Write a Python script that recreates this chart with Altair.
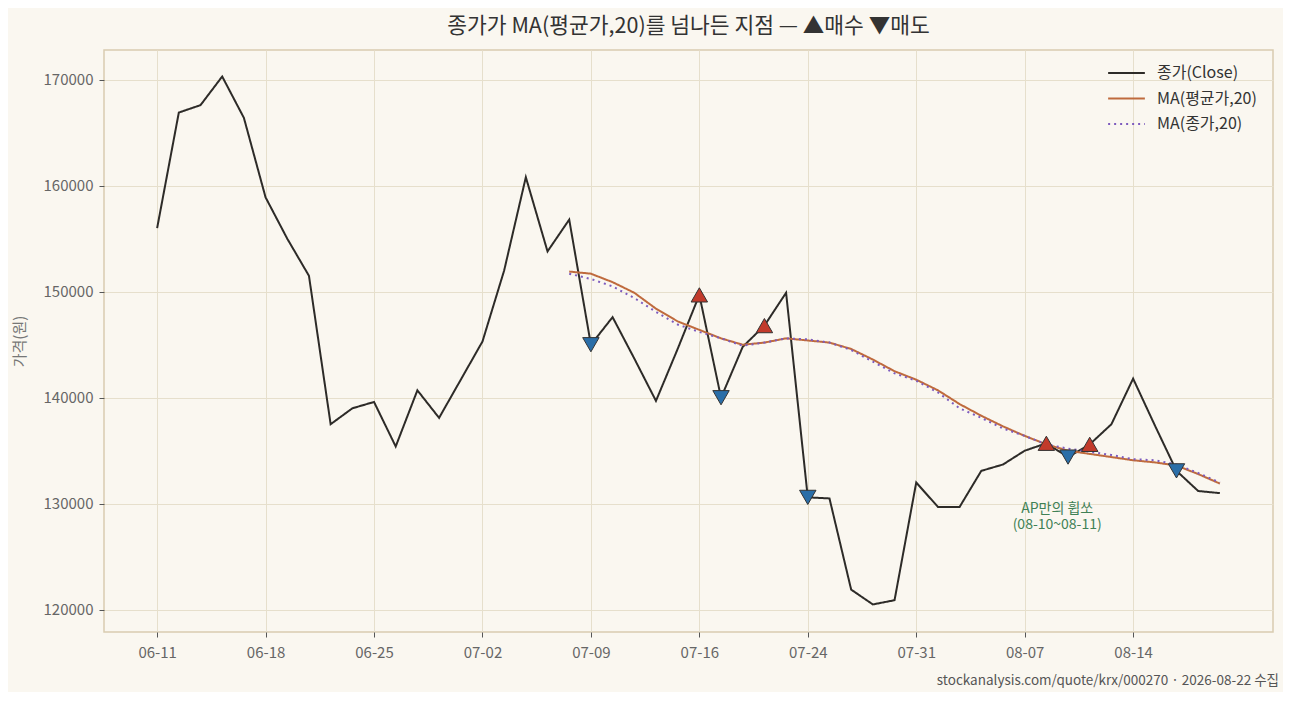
import altair as alt
import pandas as pd

FONT = "Noto Sans CJK KR"

dates = [
    "06-11", "06-12", "06-15", "06-16", "06-17", "06-18", "06-19", "06-22", "06-23", "06-24",
    "06-25", "06-26", "06-29", "06-30", "07-01", "07-02", "07-03", "07-06", "07-07", "07-08",
    "07-09", "07-10", "07-13", "07-14", "07-15", "07-16", "07-20", "07-21", "07-22", "07-23",
    "07-24", "07-27", "07-28", "07-29", "07-30", "07-31", "08-03", "08-04", "08-05", "08-06",
    "08-07", "08-10", "08-11", "08-12", "08-13", "08-14", "08-18", "08-19", "08-20", "08-21",
]
close = [
    156000, 166900, 167600, 170300, 166400, 158900, 155000, 151500, 137500, 139000,
    139600, 135400, 140700, 138100, 141700, 145300, 152000, 160800, 153800, 156800,
    145000, 147600, 143700, 139700, 144600, 149700, 140000, 144800, 146800, 149900,
    130600, 130500, 121900, 120500, 120900, 132000, 129700, 129700, 133100, 133700,
    135000, 135700, 134400, 135600, 137500, 141800, 137400, 133100, 131200, 131000,
]
ma_start = 19
ma_avg = [
    151900, 151700, 150900, 149900, 148400, 147200, 146400, 145600, 145000, 145200,
    145600, 145400, 145200, 144600, 143600, 142500, 141700, 140700, 139400, 138300,
    137300, 136400, 135600, 135000, 134700, 134400, 134100, 133900, 133600, 132800,
    131900,
]
ma_close = [
    151700, 151200, 150500, 149400, 148100, 146900, 146200, 145600, 144900, 145200,
    145600, 145500, 145200, 144500, 143400, 142300, 141600, 140500, 139000, 138100,
    137100, 136400, 135600, 135200, 134900, 134600, 134200, 134100, 133700, 132900,
    132000,
]
buy_idx = [25, 28, 41, 43]
sell_idx = [20, 26, 30, 42, 47]

series_names = ["종가(Close)", "MA(평균가,20)", "MA(종가,20)"]
series_colors = ["#2d2b28", "#bf6a3d", "#7d5bbe"]

note_lines = ["AP만의 휩쏘", "(08-10~08-11)"]

rows = [{"i": i, "price": v, "series": series_names[0]} for i, v in enumerate(close)]
rows += [{"i": ma_start + k, "price": v, "series": series_names[1]} for k, v in enumerate(ma_avg)]
rows += [{"i": ma_start + k, "price": v, "series": series_names[2]} for k, v in enumerate(ma_close)]
lines_df = pd.DataFrame(rows)

signals = pd.DataFrame(
    [{"i": i, "price": close[i], "kind": "buy"} for i in buy_idx]
    + [{"i": i, "price": close[i], "kind": "sell"} for i in sell_idx]
)

date_map = "{" + ",".join(f"'{i}':'{d}'" for i, d in enumerate(dates)) + "}"

x_scale = alt.Scale(domain=[-2.45, 51.45], nice=False, zero=False)
y_scale = alt.Scale(domain=[117900, 172800], nice=False, zero=False)

x_enc = alt.X(
    "i:Q",
    scale=x_scale,
    title=None,
    axis=alt.Axis(
        values=list(range(0, 50, 5)),
        labelExpr=f"{date_map}[toString(datum.value)]",
        grid=True,
        labelPadding=8,
    ),
)
y_enc = alt.Y(
    "price:Q",
    scale=y_scale,
    title="가격(원)",
    axis=alt.Axis(values=list(range(120000, 170001, 10000)), format="d", grid=True),
)

lines = (
    alt.Chart(lines_df)
    .mark_line(strokeWidth=2)
    .encode(
        x=x_enc,
        y=y_enc,
        color=alt.Color(
            "series:N",
            scale=alt.Scale(domain=series_names, range=series_colors),
            sort=series_names,
            legend=alt.Legend(
                title=None,
                orient="none",
                legendX=1003,
                legendY=12,
                symbolType="stroke",
                symbolSize=1350,
                symbolStrokeWidth=2,
                labelFontSize=16,
                labelColor="#333333",
                labelFont=FONT,
                clipHeight=22,
                rowPadding=3.5,
                labelOffset=11,
            ),
        ),
        strokeDash=alt.StrokeDash(
            "series:N",
            scale=alt.Scale(domain=series_names, range=[[1, 0], [1, 0], [2, 4]]),
            legend=None,
        ),
        detail="series:N",
    )
)

buys = (
    alt.Chart(signals[signals["kind"] == "buy"])
    .mark_point(shape="triangle-up", filled=True, size=270, color="#c23a2b",
                stroke="#333333", strokeWidth=1, opacity=1)
    .encode(x="i:Q", y="price:Q")
)
sells = (
    alt.Chart(signals[signals["kind"] == "sell"])
    .mark_point(shape="triangle-down", filled=True, size=270, color="#2a6ea8",
                stroke="#333333", strokeWidth=1, opacity=1)
    .encode(x="i:Q", y="price:Q")
)

note_df = pd.DataFrame({"i": [41.5], "price": [128750]})
note_top = (
    alt.Chart(note_df)
    .mark_text(text=note_lines[0], color="#3f8156", fontSize=14, font=FONT, baseline="middle", dy=-8)
    .encode(x="i:Q", y="price:Q")
)
note_bottom = (
    alt.Chart(note_df)
    .mark_text(text=note_lines[1], color="#3f8156", fontSize=14, font=FONT, baseline="middle", dy=8)
    .encode(x="i:Q", y="price:Q")
)

source = (
    alt.Chart(pd.DataFrame({"t": ["stockanalysis.com/quote/krx/000270 · 2026-08-22 수집"]}))
    .mark_text(align="right", baseline="middle", fontSize=13.5, color="#555555", font=FONT)
    .encode(x=alt.value(1175), y=alt.value(631), text="t:N")
)

chart = (
    alt.layer(lines, buys, sells, note_top, note_bottom, source)
    .properties(
        width=1169,
        height=582,
        autosize=alt.AutoSizeParams(type="none"),
        padding={"left": 96, "top": 42, "right": 10, "bottom": 60},
        background="#faf7f0",
        title=alt.TitleParams(
            "종가가 MA(평균가,20)를 넘나든 지점 — ▲매수 ▼매도",
            fontSize=21.5,
            fontWeight="normal",
            color="#333333",
            font=FONT,
            anchor="middle",
            offset=13,
        ),
    )
    .configure_view(stroke="#d9ccb0", strokeWidth=1.5, fill="#faf7f0")
    .configure_axis(
        gridColor="#e6dfcc",
        domain=False,
        tickColor="#555555",
        tickSize=5,
        labelColor="#666666",
        labelFontSize=15,
        labelFont=FONT,
        titleFont=FONT,
        titleFontSize=15,
        titleFontWeight="normal",
        titleColor="#777777",
        labelPadding=6,
    )
    .configure_axisY(titlePadding=16)
)

chart.save("out.html", embed_options={"renderer": "svg", "actions": False})
